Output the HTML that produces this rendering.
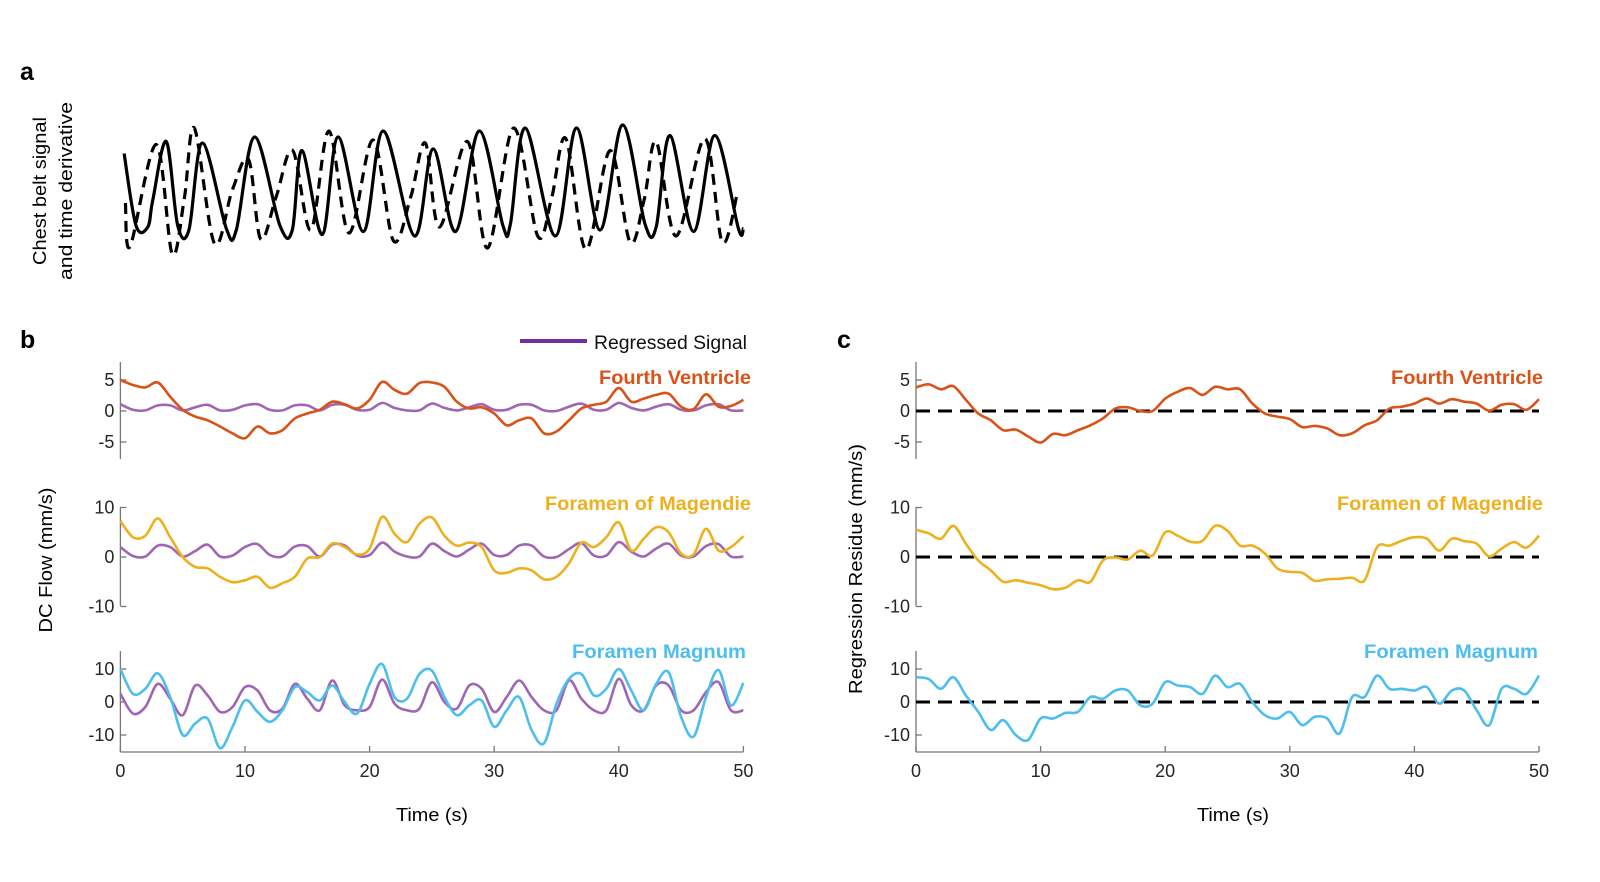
<!DOCTYPE html>
<html><head><meta charset="utf-8"><style>
html,body{margin:0;padding:0;background:#fff;}
svg{display:block;font-family:"Liberation Sans",sans-serif;}
</style></head><body>
<svg id="fig" width="1600" height="882" viewBox="0 0 1600 882">
<g id="static">
<text x="20" y="80" font-size="25" font-weight="bold" fill="#000">a</text>
<text x="20" y="348" font-size="25" font-weight="bold" fill="#000">b</text>
<text x="837" y="348" font-size="25" font-weight="bold" fill="#000">c</text>
<text transform="translate(46,191) rotate(-90)" text-anchor="middle" font-size="18" textLength="148" lengthAdjust="spacingAndGlyphs">Chest belt signal</text>
<text transform="translate(72,191) rotate(-90)" text-anchor="middle" font-size="18" textLength="178" lengthAdjust="spacingAndGlyphs">and time derivative</text>
<text transform="translate(52,560) rotate(-90)" text-anchor="middle" font-size="18" textLength="145" lengthAdjust="spacingAndGlyphs">DC Flow (mm/s)</text>
<text transform="translate(862,569) rotate(-90)" text-anchor="middle" font-size="18" textLength="250" lengthAdjust="spacingAndGlyphs">Regression Residue (mm/s)</text>
<text x="432" y="821" text-anchor="middle" font-size="18" textLength="72" lengthAdjust="spacingAndGlyphs">Time (s)</text>
<text x="1233" y="821" text-anchor="middle" font-size="18" textLength="72" lengthAdjust="spacingAndGlyphs">Time (s)</text>
<line x1="520" y1="341" x2="587" y2="341" stroke="#7030A0" stroke-width="4"/>
<text x="594" y="349" font-size="19" textLength="153" lengthAdjust="spacingAndGlyphs" fill="#111">Regressed Signal</text>
</g>
</svg>
<script>
// Panel a data (time s, arbitrary units 0-100)
const chestSolidT = [0.3,1.25,2.2,2.6,3.68,4.6,5.5,6.58,8.5,9.3,10.77,12.8,13.8,14.57,16.2,17.47,19.5,21.1,23.6,25.1,26.9,28.8,30.7,31.3,32.5,34.9,36.6,38.5,40.3,42.1,43.0,44.1,46.0,47.7,49.6,50];
const chestSolidV = [71,23,22,40,79,23,20,78,21,20,82,23,20,73,17,82,19,86,16,74,19,86,23,24,88,16,88,20,90,24,22,83,19,83,21,21];
const chestDashT = [0.4,0.78,2.87,4.16,5.13,5.93,7.55,9.0,10.29,11.25,12.5,13.83,15.28,16.73,18.35,20.27,21.9,23.3,24.47,25.6,27.85,29.46,31.56,33.49,34.6,35.75,37.36,39.3,40.9,42.03,43.0,44.6,46.9,48.3,49.5];
const chestDashV = [38,9,77,4,41,88,11,47,67,14,42,73,20,86,18,80,13,42,78,22,79,8,88,16,41,81,7,73,12,40,79,16,81,12,44];

// Panel b data, 1 s grid
const timeGrid = [0,1,2,3,4,5,6,7,8,9,10,11,12,13,14,15,16,17,18,19,20,21,22,23,24,25,26,27,28,29,30,31,32,33,34,35,36,37,38,39,40,41,42,43,44,45,46,47,48,49,50];
const fvFlow = [5,4.2,3.8,4.6,2.3,0.2,-0.9,-1.5,-2.5,-3.6,-4.4,-2.5,-3.6,-3.1,-1.2,-0.4,0.2,1.5,1.1,0.4,1.8,4.7,3.4,2.8,4.5,4.6,3.9,1.5,0.4,0.6,-0.4,-2.3,-1.5,-1.2,-3.6,-3.3,-1.5,0.4,1.0,1.5,3.7,1.5,2.0,2.6,2.8,0.7,0.3,2.7,0.7,0.8,1.8];
const fvRegressed = [1.1,0.2,0.1,0.9,0.9,0.1,0.6,1.0,0.1,0.2,0.9,1.1,0.2,0.1,0.9,0.9,0.1,1.0,1.0,0.2,0.2,1.3,0.5,0.1,0.1,1.2,0.5,0.1,0.6,1.1,0.2,0.2,1.0,1.0,0.1,0.0,0.7,1.2,0.2,0.2,1.3,0.5,0.1,0.7,1.1,0.2,0.1,0.9,1.1,0.1,0.1];
const fmgFlow = [7.3,4,4.3,7.8,4,0,-2,-2.3,-4,-5.1,-4.7,-4,-6.2,-5.3,-4,-0.3,0,2.7,2,0.5,1.7,8.1,4.7,3,6.7,8,4.3,2.3,2.9,2,-2.7,-3.2,-2.3,-2.7,-4.5,-4,-1.3,2.9,2,4,7,1.3,3.7,6,5,0.7,0.5,5.7,1.3,2,4.2];
const fmgRegressed = [2.0,0.2,0.1,2.3,2.0,0.1,1.2,2.5,0.1,0.3,2.0,2.6,0.4,0.1,2.1,2.2,0.1,2.5,2.3,0.3,0.4,2.9,1.1,0.1,0.1,2.7,1.2,0.1,1.5,2.7,0.4,0.4,2.3,2.3,0.1,0.0,1.6,2.8,0.3,0.3,3.0,1.1,0.1,1.7,2.7,0.3,0.1,2.2,2.6,0.1,0.1];
const fmFlow = [10,2.5,4,8.7,1.5,-10,-6.5,-5,-14,-7.5,0.5,-3,-6,-2.5,4.5,3,0.5,5,0,-3.5,5.5,11.5,1.5,1,8.5,9.5,1.5,-4,-1,0.5,-7.5,-2.5,1.5,-8.5,-12.5,-0.5,7,8.5,2,4,10,3.5,-2.5,5.5,9,-4.5,-10.5,1.5,9.7,-1,5.8];
const fmRegressed = [2.5,-3.5,-1.5,5.5,1,-4,5,2,-3,-1.5,4.5,3.5,-2.5,-2,5.5,1,-2.5,6.5,-1,-2.5,-1.5,6.8,-0.5,-2.5,-2,6,0,-2,5,4,-3,1.5,6.5,1.5,-2.5,-2.5,6.5,1,-2.5,-2.5,7,-1,-2.5,5,5,-2.5,-2.5,3,6,-2.5,-2.5];

// Panel c residues
const fvResidue = [3.8,4.3,3.5,4,1.8,-0.4,-1.5,-3.1,-3,-4.1,-5.1,-3.7,-3.9,-3.1,-2.3,-1.2,0.4,0.6,0,0,2,3.1,3.7,2.6,3.9,3.5,3.5,1.2,-0.4,-0.9,-1.3,-2.6,-2.4,-2.8,-3.9,-3.6,-2.3,-1.5,0.4,0.7,1.2,2,1.2,1.9,1.5,1.2,0.05,1,1.1,0.2,1.9];
const fmgResidue = [5.5,4.8,3.7,6.3,2.7,-0.7,-2.7,-5,-4.7,-5.2,-5.7,-6.5,-6.2,-4.7,-5,-0.7,-0.1,-0.5,1.3,0.3,5,4.3,3.1,3.3,6.3,5.3,2.3,2.3,0.7,-2.3,-3,-3.2,-4.8,-4.5,-4.4,-4.2,-4.7,2,2.3,3.3,4,3.7,1.3,3.7,3.2,2.7,0.1,1.7,3,1.9,4.3];
const fmResidue = [7.5,7,4,7.5,2,-3,-8.5,-5.5,-10,-11.5,-5,-5,-3.3,-3,1.5,1,3.5,3.5,-1,-0.5,6,5,4.5,2.5,8,4.5,5.5,0,-4,-5,-3,-7,-4.5,-5,-9.5,1.5,1.5,8,4,4,3.5,4.5,-0.5,3.5,3.5,-2.5,-7,4,4,2.5,8];

const xTicks = [0,10,20,30,40,50];
const yTicks1 = [5,0,-5];
const yTicks2 = [10,0,-10];
const yTicks3 = [10,0,-10];

const NS = 'http://www.w3.org/2000/svg';
const svg = document.getElementById('fig');
function mk(tag, attrs, parent){const e=document.createElementNS(NS,tag);for(const k in attrs)e.setAttribute(k,attrs[k]);(parent||svg).appendChild(e);return e;}
function smoothPath(pts){
  let d='M'+pts[0][0].toFixed(1)+','+pts[0][1].toFixed(1);
  for(let i=0;i<pts.length-1;i++){
    const p0=pts[Math.max(0,i-1)],p1=pts[i],p2=pts[i+1],p3=pts[Math.min(pts.length-1,i+2)];
    const c1x=p1[0]+(p2[0]-p0[0])/6,c1y=p1[1]+(p2[1]-p0[1])/6;
    const c2x=p2[0]-(p3[0]-p1[0])/6,c2y=p2[1]-(p3[1]-p1[1])/6;
    d+=' C'+c1x.toFixed(1)+','+c1y.toFixed(1)+' '+c2x.toFixed(1)+','+c2y.toFixed(1)+' '+p2[0].toFixed(1)+','+p2[1].toFixed(1);
  }
  return d;
}
function xScale(x0){return t=>x0+t*(623/50);}
function yScale(y0,ppu){return v=>y0-v*ppu;}

// Panel a
const ax=xScale(120.4), ayA=v=>260-1.5*v;
const ptsS=chestSolidT.map((t,i)=>[ax(t),ayA(chestSolidV[i])]);
const pS=mk('path',{d:smoothPath(ptsS),fill:'none',stroke:'#000','stroke-width':3.2,'stroke-linejoin':'round'});


const ptsD=chestDashT.map((t,i)=>[ax(t),ayA(chestDashV[i])]);
const pD=mk('path',{d:smoothPath(ptsD),fill:'none',stroke:'#000','stroke-width':3.2,'stroke-dasharray':'11 7'});



const C_OR='#D95319',C_YE='#EDB120',C_CY='#4DBEEE',C_PU='#A066B4';
function subplot(x0,y0,ppu,top,bot,ticks,name,title,titleColor,titleX,titleY,titleLen,series,zero,xAxis){
  const xs=xScale(x0), ys=yScale(y0,ppu);
  const g=mk('g',{});
  
  
  const axl=mk('line',{x1:x0,y1:top,x2:x0,y2:bot,stroke:'#777','stroke-width':1.3},g);
  
  
  ticks.forEach(v=>{
    const tk=mk('line',{x1:x0,y1:ys(v),x2:x0+6,y2:ys(v),stroke:'#777','stroke-width':1.3},g);
    
    
    const tl=mk('text',{x:x0-6,y:ys(v)+6,'text-anchor':'end','font-size':18,fill:'#262626'},g);
    tl.textContent=String(v);
    
    
  });
  if(zero){
    const z=mk('line',{x1:xs(0),y1:ys(0),x2:xs(50),y2:ys(0),stroke:'#000','stroke-width':3,'stroke-dasharray':'14 8'},g);
    
    
  }
  series.forEach(s=>{
    const pts=timeGrid.map((t,i)=>[xs(t),Math.min(bot,Math.max(top-20,ys(s.v[i])))]);
    const p=mk('path',{d:smoothPath(pts),fill:'none',stroke:s.c,'stroke-width':2.6,'stroke-linejoin':'round'},g);
    
    
  });
  const tt=mk('text',{x:titleX,y:titleY,'text-anchor':'end','font-size':19,'font-weight':'bold',fill:titleColor,textLength:titleLen,lengthAdjust:'spacingAndGlyphs'},g);
  tt.textContent=title;
  
  
  if(xAxis){
    const xl=mk('line',{x1:x0,y1:bot,x2:xs(50),y2:bot,stroke:'#777','stroke-width':1.3},g);
    
    
    xTicks.forEach(t=>{
      const tk=mk('line',{x1:xs(t),y1:bot,x2:xs(t),y2:bot-6,stroke:'#777','stroke-width':1.3},g);
      
      
      const tl=mk('text',{x:xs(t),y:bot+25,'text-anchor':'middle','font-size':18,fill:'#262626'},g);
      tl.textContent=String(t);
      
      
    });
  }
}
// Panel b
subplot(120.4,411,6.2,362,459,yTicks1,'b-fourth-ventricle','Fourth Ventricle',C_OR,751,384,152,
  [{v:fvRegressed,c:C_PU,n:'b-fv-regressed-line'},{v:fvFlow,c:C_OR,n:'b-fv-flow-line'}],false,false);
subplot(120.4,557,4.95,507,606,yTicks2,'b-magendie','Foramen of Magendie',C_YE,751,510,206,
  [{v:fmgRegressed,c:C_PU,n:'b-fmg-regressed-line'},{v:fmgFlow,c:C_YE,n:'b-fmg-flow-line'}],false,false);
subplot(120.4,702,3.3,651,752,yTicks3,'b-magnum','Foramen Magnum',C_CY,746,658,174,
  [{v:fmRegressed,c:C_PU,n:'b-fm-regressed-line'},{v:fmFlow,c:C_CY,n:'b-fm-flow-line'}],false,true);
// Panel c
subplot(916,411,6.2,362,459,yTicks1,'c-fourth-ventricle','Fourth Ventricle',C_OR,1543,384,152,
  [{v:fvResidue,c:C_OR,n:'c-fv-residue-line'}],true,false);
subplot(916,557,4.95,507,606,yTicks2,'c-magendie','Foramen of Magendie',C_YE,1543,510,206,
  [{v:fmgResidue,c:C_YE,n:'c-fmg-residue-line'}],true,false);
subplot(916,702,3.3,651,752,yTicks3,'c-magnum','Foramen Magnum',C_CY,1538,658,174,
  [{v:fmResidue,c:C_CY,n:'c-fm-residue-line'}],true,true);
</script>
</body></html>
